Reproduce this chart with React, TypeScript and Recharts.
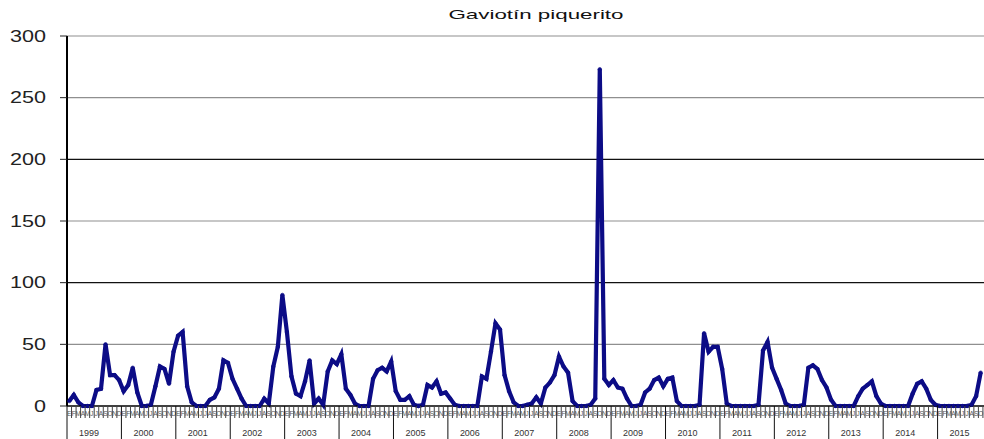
import { LineChart, Line, XAxis, YAxis, ReferenceLine } from 'recharts'

const TITLE = 'Gaviotín piquerito'
const MONTHS = ['E', 'F', 'M', 'A', 'M', 'J', 'J', 'A', 'S', 'O', 'N', 'D']
const YEARS = [1999, 2000, 2001, 2002, 2003, 2004, 2005, 2006, 2007, 2008, 2009, 2010, 2011, 2012, 2013, 2014, 2015]

// monthly counts, Jan..Dec per year (null = no record)
const Y1999 = [4, 9, 3, 0, 0, 0, 13, 14, 50, 25, 25, 21]
const Y2000 = [12, 17, 31, 11, 0, 0, 1, 16, 32, 30, 18, 44]
const Y2001 = [57, 60, 16, 3, 0, 0, 0, 5, 7, 14, 37, 35]
const Y2002 = [22, 14, 6, 0, 0, 0, 0, 6, 2, 32, 48, 90]
const Y2003 = [60, 24, 10, 8, 20, 37, 2, 6, 1, 28, 37, 34]
const Y2004 = [42, 14, 9, 2, 0, 0, 0, 22, 29, 31, 28, 36]
const Y2005 = [12, 5, 5, 8, 1, 0, 1, 17, 15, 20, 10, 11]
const Y2006 = [6, 1, 0, 0, 0, 0, 0, 24, 22, 44, 67, 62]
const Y2007 = [25, 12, 3, 0, 0, 1, 2, 7, 2, 15, 19, 25]
const Y2008 = [40, 32, 27, 4, 0, 0, 0, 1, 6, 273, 22, 17]
const Y2009 = [21, 15, 14, 6, 0, 0, 1, 11, 14, 21, 23, 16]
const Y2010 = [22, 23, 4, 0, 0, 0, 0, 1, 59, 44, 48, 48]
const Y2011 = [30, 2, 0, 0, 0, 0, 0, 0, 1, 45, 52, 31]
const Y2012 = [22, 13, 2, 0, 0, 0, 1, 31, 33, 30, 21, 15]
const Y2013 = [5, 0, 0, 0, 0, 0, 8, 14, 17, 20, 8, 2]
const Y2014 = [0, 0, 0, 0, 0, 0, 10, 18, 20, 14, 5, 1]
const Y2015 = [0, 0, 0, 0, 0, 0, 0, 1, 8, 27, null, null]

const SERIES = [Y1999, Y2000, Y2001, Y2002, Y2003, Y2004, Y2005, Y2006, Y2007, Y2008,
  Y2009, Y2010, Y2011, Y2012, Y2013, Y2014, Y2015]

const Y_TICKS = [0, 50, 100, 150, 200, 250, 300]
const DARK_GRID = [100, 200]

const data = YEARS.flatMap((_, yi) =>
  MONTHS.map((m, mi) => ({ idx: yi * 12 + mi, month: m, value: SERIES[yi][mi] }))
)
const MONTH_IDX = data.map(d => d.idx)

const NAVY = '#0c0c86'
const FONT = '"Liberation Sans", Arial, sans-serif'
const VIEW_W = 984
const CHART_W = 992
const PLOT_LEFT = 67
const STEP = (CHART_W - PLOT_LEFT) / data.length

const YTick = ({ x, y, payload }: any) => {
  const s = String(payload.value)
  return (
    <text x={x} y={y} dy={5.8} textAnchor="end" fontSize={16} fill="#222" fontFamily={FONT}
      textLength={s.length * 12} lengthAdjust="spacingAndGlyphs">
      {s}
    </text>
  )
}

const MonthTick = ({ x, y, payload }: any) => {
  const i = payload.value as number
  const m = i % 12
  const bx = x - STEP / 2
  return (
    <g>
      <line x1={bx} x2={bx} y1={y} y2={y + (m === 0 ? 34 : 12)} stroke={m === 0 ? '#111' : '#444'} strokeWidth={1} />
      {x + 3 < VIEW_W && (
        <text x={x} y={y + 9.5} fontSize={6.5} textAnchor="middle" fill="#555" fontFamily={FONT}>{MONTHS[m]}</text>
      )}
      {m === 0 && (
        <text x={bx + 22} y={y + 30} fontSize={9.5} textAnchor="middle" fill="#333" fontFamily={FONT}
          textLength={20} lengthAdjust="spacingAndGlyphs">
          {YEARS[Math.floor(i / 12)]}
        </text>
      )}
    </g>
  )
}

export default function App() {
  return (
    <div style={{ position: 'fixed', left: 0, top: 0, width: VIEW_W, height: 439, overflow: 'hidden', background: '#fff' }}>
      <svg width={VIEW_W} height={30} style={{ position: 'absolute', left: 0, top: 0 }}>
        <text x={536} y={19} textAnchor="middle" fontSize={13} fill="#111" fontFamily={FONT}
          textLength={175} lengthAdjust="spacingAndGlyphs">
          {TITLE}
        </text>
      </svg>
      <div style={{ position: 'absolute', left: 0, top: 0 }}>
        <LineChart width={CHART_W} height={439} data={data} margin={{ top: 36, right: 0, bottom: 0, left: 7 }}>
          {Y_TICKS.filter(v => v > 0).map(v => (
            <ReferenceLine key={v} y={v} stroke={DARK_GRID.includes(v) ? '#111' : '#8f8f8f'} strokeWidth={1.2} />
          ))}
          <XAxis dataKey="idx" type="number" domain={[-0.5, data.length - 0.5]} ticks={MONTH_IDX} interval={0}
            height={33} tickSize={0} tickMargin={0} tick={<MonthTick />} tickLine={false}
            axisLine={{ stroke: '#000', strokeWidth: 1.5 }} allowDataOverflow />
          <YAxis domain={[0, 300]} ticks={Y_TICKS} width={60} tickSize={7} tickMargin={14} tick={<YTick />}
            tickLine={{ stroke: '#222' }} axisLine={{ stroke: '#000', strokeWidth: 2 }} />
          <Line type="linear" dataKey="value" stroke={NAVY} strokeWidth={4.2} isAnimationActive={false}
            dot={{ r: 1.8, fill: NAVY, stroke: NAVY, strokeWidth: 0.6 }} activeDot={false} />
        </LineChart>
      </div>
    </div>
  )
}
